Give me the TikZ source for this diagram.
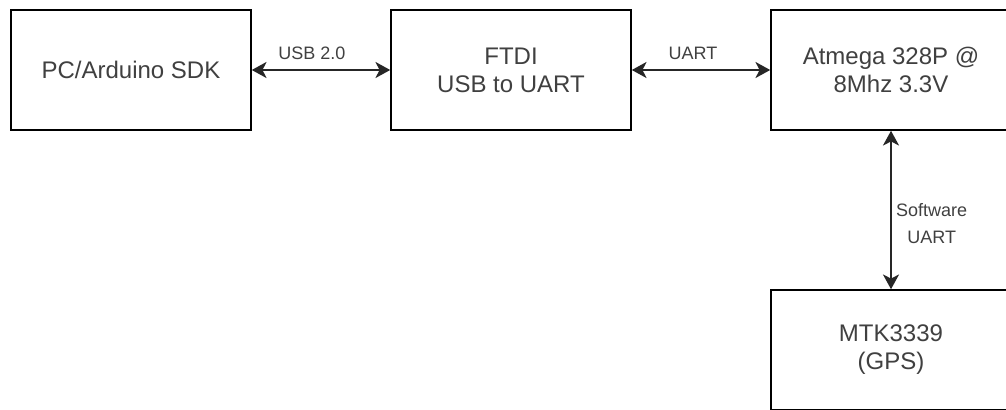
\documentclass[tikz,border=0pt]{standalone}
\usepackage{fontspec}
\setmainfont{Liberation Sans}
\usetikzlibrary{arrows.meta,positioning}
\definecolor{ink}{RGB}{64,64,64}
\tikzset{
  block/.style={draw=black, line width=1.2pt, fill=white, minimum width=180pt,
               minimum height=90pt, inner sep=0pt, align=center, text=ink,
               font=\fontsize{18}{21}\selectfont},
  lbl/.style={font=\fontsize{13.5}{20}\selectfont, text=ink, align=center, inner sep=0pt},
  link/.style={{Stealth[length=11pt,width=12pt,inset=3pt]}-{Stealth[length=11pt,width=12pt,inset=3pt]},
               line width=1.4pt, black!85},
}
\begin{document}
\begin{tikzpicture}[x=0.75pt,y=-0.75pt, node distance=103.8pt]
  \useasboundingbox (0,0) rectangle (1006,410);
  \node[block] (pc) at (131,70) {PC/Arduino SDK};
  \node[block, right=of pc] (ftdi) {FTDI\\USB to UART};
  \node[block, right=of ftdi] (mcu) {Atmega 328P @\\8Mhz 3.3V};
  \node[block, below=118.8pt of mcu] (gps) {MTK3339\\(GPS)};
  % links
  \draw[link] (pc) -- node[lbl, xshift=-6.75pt, yshift=12.75pt] (usb) {USB 2.0} (ftdi);
  \draw[link] (ftdi) -- node[lbl, xshift=-6pt, yshift=12.75pt] (uart) {UART} (mcu);
  \draw[link] (mcu) -- node[lbl, xshift=30.5pt, yshift=-10pt] (swuart) {Software\\UART} (gps);
\end{tikzpicture}
\end{document}
